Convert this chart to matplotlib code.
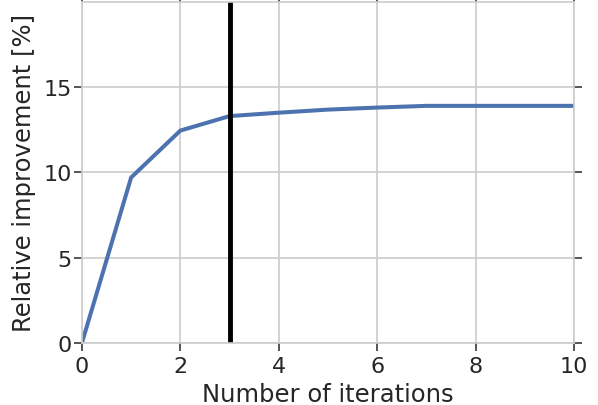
import matplotlib
matplotlib.use("Agg")
import matplotlib.pyplot as plt
import seaborn as sns

iterations = [0, 1, 2, 3, 4, 5, 6, 7, 8, 9, 10]
improvement = [0.0, 9.7, 12.45, 13.3, 13.5, 13.68, 13.8, 13.9, 13.9, 13.9, 13.9]
chosen_iter = 3

sns.set_theme(style="whitegrid", context="notebook")
plt.rcParams['font.family'] = ['DejaVu Sans']

fig = plt.figure(figsize=(5.98, 4.06), dpi=100)
ax = fig.add_axes([0.137, 0.153, 0.823, 0.840])

ax.plot(iterations, improvement, color="#4c72b0", lw=2.9)
ax.axvline(chosen_iter, color="black", lw=3.5)

ax.set_xlim(0, 10)
ax.set_ylim(0, 20)
ax.set_yticks([0, 5, 10, 15])
ax.set_xticks([0, 2, 4, 6, 8, 10])
ax.set_xlabel("Number of iterations", fontsize=17.5, color="#262626", labelpad=4)
ax.set_ylabel("Relative improvement [%]", fontsize=17.5, color="#262626", labelpad=5)

ax.tick_params(axis="y", pad=2)
ax.tick_params(axis="x", pad=4)
ax.tick_params(axis="both", which="both", direction="out", length=5.5, width=1.1,
               color="#262626", labelsize=16, labelcolor="#262626",
               top=True, right=True, bottom=True, left=True,
               labeltop=False, labelright=False)
ax.grid(True, color="#cccccc", lw=1.2)
for sp in ax.spines.values():
    sp.set_color("#cccccc")
    sp.set_linewidth(1.2)

fig.savefig("out.png", dpi=100)
